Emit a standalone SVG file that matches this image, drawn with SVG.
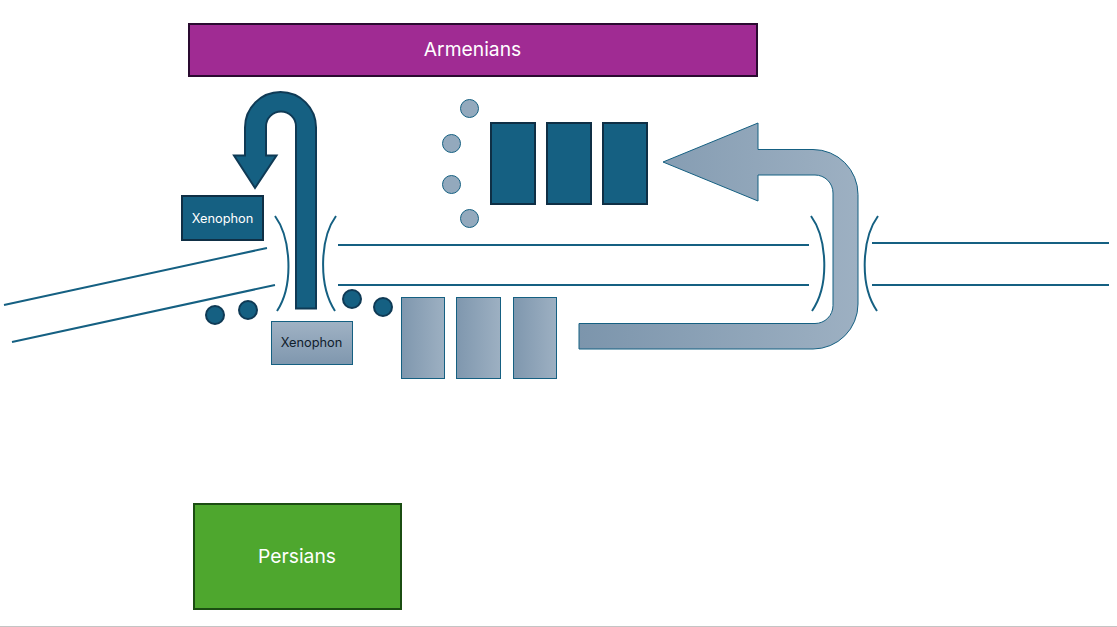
<svg xmlns="http://www.w3.org/2000/svg" width="1117" height="627" viewBox="0 0 1117 627">
<defs>
<linearGradient id="gh" x1="0" y1="0" x2="1" y2="0"><stop offset="0" stop-color="#7f97ae"/><stop offset="1" stop-color="#9db0c2"/></linearGradient>
<linearGradient id="gv" x1="0" y1="0" x2="0" y2="1"><stop offset="0" stop-color="#a0b2c4"/><stop offset="1" stop-color="#7f97ae"/></linearGradient>
<linearGradient id="ga" gradientUnits="userSpaceOnUse" x1="579" y1="0" x2="858" y2="0"><stop offset="0" stop-color="#7c95ac"/><stop offset="1" stop-color="#9db0c2"/></linearGradient>
</defs>
<style>
.t{font-family:Inter,"Noto Sans","Liberation Sans",sans-serif;text-anchor:middle}
.l{fill:none;stroke:#156082;stroke-width:2}
.d{fill:#156082;stroke:#0f2f45;stroke-width:2}
.lt{fill:url(#gh);stroke:#156082;stroke-width:1}
.c1{fill:#156082;stroke:#0f3a55;stroke-width:2}
.c2{fill:#93a9bd;stroke:#156082;stroke-width:1}
</style>
<rect width="1117" height="627" fill="#fff"/>
<line x1="0" y1="626.500" x2="1117" y2="626.500" stroke="#c4c4c4" stroke-width="1"/>
<g id="connectors">
<path class="l" d="M4 305L267 248M12 342L275 285M338 245H809M338 285H809M872 243H1109M872 285H1109"/>
<path class="l" d="M275 216C291 238 294 285 277 311M336 216C320 238 318 285 335 311M811 216C827 238 830 285 812 311M878 216C862 238 859 285 877 311"/>
<path id="arrow-xenophon" d="M296 308.500V126.500A14.500 14.500 0 0 0 266 126.500V155.500H276.500L255 188L234 155.500H245V127.500A35.500 35.500 0 0 1 316 127.500V308.500Z" fill="#156082" stroke="#0f3a55" stroke-width="2"/>
<path id="arrow-persians" d="M579 349V323.500H815A18 18 0 0 0 833 305.500V193A18 18 0 0 0 815 175H758V201L663 162L758 123V149.500H813A45 45 0 0 1 858 194.500V304A45 45 0 0 1 813 349Z" fill="url(#ga)" stroke="#156082" stroke-width="1"/>
</g>
<g id="armenians"><rect x="189" y="24" width="568" height="52" fill="#a02b93" stroke="#2a0a30" stroke-width="2"/><text class="t" x="472.500" y="55.500" font-size="19.300" fill="#fff">Armenians</text></g>
<g id="persians"><rect x="194" y="504" width="207" height="105" fill="#4ea72e" stroke="#1b4d12" stroke-width="2"/><text class="t" x="297" y="563" font-size="19.300" fill="#fff">Persians</text></g>
<g id="xenophon-1"><rect x="182" y="196" width="81" height="44" class="d"/><text class="t" x="222.500" y="223" font-size="12.800" fill="#fff">Xenophon</text></g>
<g id="xenophon-2"><rect x="271.500" y="321.500" width="81" height="43" fill="url(#gv)" stroke="#156082"/><text class="t" x="311.500" y="347" font-size="12.800" fill="#10202c">Xenophon</text></g>
<g id="dark-blocks"><rect class="d" x="491" y="123" width="44" height="81"/><rect class="d" x="547" y="123" width="44" height="81"/><rect class="d" x="603" y="123" width="44" height="81"/></g>
<g id="light-blocks"><rect class="lt" x="401.500" y="297.500" width="43" height="81"/><rect class="lt" x="456.500" y="297.500" width="44" height="81"/><rect class="lt" x="513.500" y="297.500" width="43" height="81"/></g>
<g id="dark-dots"><circle class="c1" cx="215" cy="315" r="9"/><circle class="c1" cx="248" cy="310" r="9"/><circle class="c1" cx="352" cy="299" r="9"/><circle class="c1" cx="383" cy="307" r="9"/></g>
<g id="light-dots"><circle class="c2" cx="469.500" cy="108.500" r="9"/><circle class="c2" cx="451.500" cy="143.500" r="9"/><circle class="c2" cx="451.500" cy="184.500" r="9"/><circle class="c2" cx="469.500" cy="218.500" r="9"/></g>
</svg>
